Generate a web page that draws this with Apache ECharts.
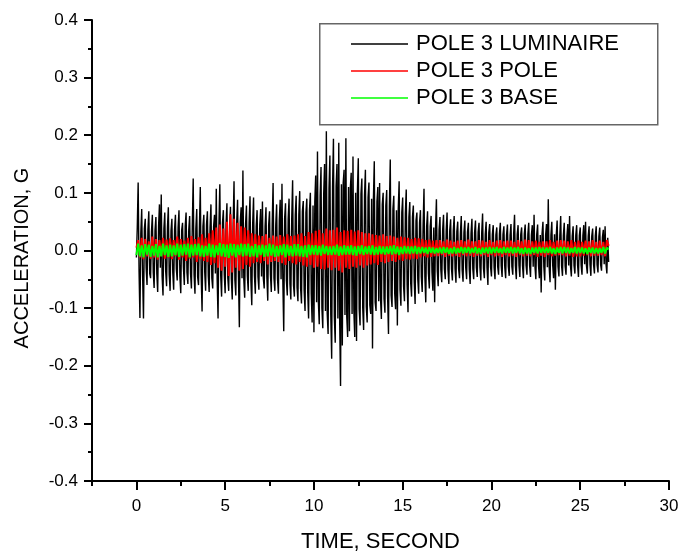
<!DOCTYPE html>
<html>
<head>
<meta charset="utf-8">
<script src="https://cdn.jsdelivr.net/npm/echarts@6/dist/echarts.min.js"></script>
<style>
  html, body { margin: 0; padding: 0; background: #fff; }
  #curve { width: 682px; height: 558px; }
</style>
</head>
<body>
<div id="curve"></div>
<script>
// 采样间隔 (秒)
var dtLum = 0.05;
var dtPole = 0.1;
var dtBase = 0.1;

// 灯具加速度, 单位 0.001 G, 每行一秒
var luminaire = [
  -12, 40, 118, -35, -117, 30, 72, -42, -118, 38, 55, -30, -60, 36, 68, -40, -48, 33, 62, -38,
  -65, 35, 58, -40, -72, 42, 80, -30, 97, -45, -78, 38, 66, -36, -62, 40, 75, -42, -70, 34,
  55, -38, -68, 36, 62, -32, -52, 40, 70, -44, -74, 35, 48, -30, -60, 42, 66, -38, -58, 36,
  60, -40, -66, 44, 125, -42, -75, 38, 72, -46, -60, 40, 110, -44, -106, 42, 62, -38, -70, 45,
  68, -44, -72, 40, 80, -48, -66, 42, 62, -40, 107, -50, -118, 46, 115, -44, -80, 48, 70, -42,
  -74, 45, 82, -48, -70, 44, 76, -50, -85, 46, 120, -52, -78, 48, 88, -46, -133, 50, 75, -48,
  139, -50, -82, 46, 78, -44, -70, 48, 94, -52, -95, 46, 92, -44, -75, 42, 70, -46, -68, 44,
  72, -45, 85, -48, -66, 42, 75, -46, -87, 44, 68, -42, -72, 46, 117, -48, -70, 44, 80, -50,
  -75, 52, 88, -50, 116, -54, -140, 56, 82, -52, -78, 55, 90, -58, -85, 56, 122, -60, -80, 62,
  95, -64, -88, 62, 103, -66, -92, 68, 86, -70, -105, 66, 90, -72, -118, 70, 100, -75, -125, 78,
  -142, 85, 130, -90, 172, -88, -128, 95, 145, -100, -135, 98, 150, -105, 207, -110, -145, 108, 165, -112,
  -188, 110, 194, -115, -160, 112, 150, -118, 187, -120, -235, 115, -165, 118, 140, -112, 195, -115, -150, 110,
  -140, 108, 135, -110, 163, -105, -150, 100, -157, 104, 160, -102, -130, 98, 125, -100, -138, 95, 140, -98,
  -125, 92, 118, -95, -110, 90, -170, 88, 155, -90, -105, 85, 110, -88, 117, -82, -119, 80, 100, -84,
  -108, 78, 105, -80, -145, 75, 158, -78, -98, 72, 95, -74, -102, 70, -130, 72, 120, -68, -96, 66,
  92, -62, -88, 64, 106, -60, -107, 58, 84, -56, -80, 58, 78, -54, -93, 52, 66, -50, -75, 48,
  70, -46, -72, 44, 107, -46, -90, 42, 68, -40, -66, 42, 60, -38, -70, 40, -90, 38, 89, -36,
  -62, 36, 58, -34, -55, 35, 62, -32, -50, 34, 66, -33, -58, 35, 54, -32, -52, 34, 60, -31,
  -56, 33, 50, -32, -48, 30, 60, -34, -54, 31, 52, -30, -50, 32, 48, -33, -58, 30, 55, -32,
  -50, 31, 52, -30, -46, 32, 48, -29, -52, 30, 64, -31, -48, 28, 50, -30, -60, 31, 46, -29,
  -45, 28, 44, -30, -50, 27, 40, -28, -42, 29, 48, -27, -46, 28, 42, -29, -48, 27, 45, -28,
  -44, 27, 46, -28, -42, 29, 62, -27, -50, 28, 44, -26, -46, 28, 40, -27, -48, 29, 45, -26,
  -42, 28, 48, -26, -46, 27, 44, -28, 62, -27, -50, 28, 45, -26, -48, 27, -73, 29, 50, -28,
  -52, 27, 46, -29, 89, -28, -55, 27, 50, -26, -48, 28, -68, 27, 52, -28, -45, 26, 60, -27,
  -44, 26, 48, -27, -42, 25, 46, -26, 60, -27, -45, 25, 42, -26, -40, 27, 44, -25, -46, 26,
  40, -25, -42, 26, 44, -24, 50, -26, -40, 25, 42, -24, -44, 25, 38, -24, -40, 26, 42, -25,
  -38, 24, 40, -25, -35, 23, 36, -24, 42, -23, -40, 22, -20
];

// 灯杆加速度, 单位 0.001 G
var pole = [
  5, 18, -12, 22, -15, 20, -10, 16, -14, 24,
  -12, 20, -16, 18, -10, 22, -14, 19, -12, 21,
  -15, 18, -10, 24, -16, 20, -12, 17, -18, 22,
  -14, 25, -12, 20, -20, 23, -15, 28, -18, 22,
  -20, 30, -25, 35, -22, 40, -30, 45, -35, 38,
  -28, 50, -44, 63, -38, 55, -30, 48, -35, 42,
  -32, 40, -25, 35, -28, 30, -22, 28, -20, 26,
  -22, 25, -18, 28, -24, 22, -20, 26, -18, 24,
  -20, 27, -22, 24, -25, 28, -18, 25, -22, 26,
  -24, 28, -20, 30, -26, 25, -28, 32, -25, 30,
  -30, 34, -28, 36, -32, 30, -33, 38, -30, 35,
  -34, 36, -30, 40, -35, 32, -38, 35, -30, 34,
  -32, 36, -28, 33, -30, 35, -26, 32, -30, 30,
  -26, 30, -24, 28, -22, 27, -25, 26, -20, 28,
  -22, 25, -20, 26, -18, 24, -20, 22, -16, 24,
  -18, 23, -15, 22, -16, 20, -14, 22, -15, 21,
  -12, 20, -10, 18, -12, 19, -11, 17, -10, 18,
  -10, 18, -8, 16, -11, 19, -9, 17, -10, 15,
  -9, 17, -11, 18, -8, 16, -10, 19, -9, 16,
  -11, 16, -9, 18, -10, 17, -8, 15, -11, 18,
  -8, 15, -10, 17, -9, 18, -11, 16, -8, 17,
  -10, 17, -9, 15, -11, 18, -8, 16, -10, 19,
  -9, 18, -10, 16, -8, 17, -11, 15, -9, 16,
  -11, 16, -8, 18, -10, 15, -9, 17, -8, 18,
  -8, 17, -10, 16, -9, 18, -11, 15, -10, 17,
  -10, 15, -9, 17, -8, 16, -10, 18, -9, 15,
  -9, 17, -8, 15, -10, 18, 8
];

// 基础加速度, 单位 0.001 G
var base = [
  -8, 12, -10, 9, -12, 11, -7, 10, -11, 8,
  -9, 11, -12, 8, -10, 12, -8, 9, -11, 10,
  -10, 9, -8, 12, -11, 10, -9, 11, -7, 12,
  -12, 10, -9, 11, -8, 12, -10, 9, -11, 8,
  -9, 12, -11, 10, -12, 9, -8, 13, -10, 11,
  -11, 10, -13, 12, -9, 11, -12, 10, -8, 12,
  -10, 11, -9, 12, -11, 8, -10, 11, -12, 9,
  -8, 10, -11, 9, -10, 12, -9, 10, -11, 8,
  -10, 9, -8, 11, -12, 10, -9, 8, -10, 11,
  -9, 11, -10, 8, -11, 9, -12, 10, -8, 9,
  -7, 9, -8, 8, -9, 10, -6, 8, -8, 7,
  -8, 8, -7, 10, -9, 7, -8, 9, -7, 8,
  -7, 9, -8, 7, -9, 8, -6, 9, -8, 7,
  -6, 8, -7, 9, -8, 6, -7, 8, -6, 7,
  -7, 7, -6, 8, -7, 9, -6, 7, -8, 6,
  -6, 8, -5, 7, -6, 7, -5, 8, -6, 6,
  -5, 6, -4, 5, -6, 6, -4, 5, -5, 4,
  -4, 5, -5, 6, -4, 5, -6, 4, -5, 6,
  -5, 4, -4, 6, -5, 5, -4, 6, -5, 4,
  -4, 6, -5, 4, -6, 5, -4, 5, -5, 6,
  -5, 5, -4, 6, -4, 4, -5, 6, -4, 5,
  -4, 6, -5, 5, -4, 6, -5, 4, -6, 5,
  -5, 4, -6, 5, -4, 5, -5, 6, -4, 5,
  -4, 5, -4, 6, -5, 4, -6, 5, -4, 6,
  -5, 6, -4, 5, -5, 4, -4, 6, -5, 5,
  -4, 5, -5, 4, -6, 5, -4, 5, -5, 4,
  -5, 4, -4, 6, -5, 5, 2
];

var seriesNames = ['POLE 3 LUMINAIRE', 'POLE 3 POLE', 'POLE 3 BASE'];
var seriesColors = ['#000000', '#ff0000', '#00ff00'];
var seriesWidths = [1.4, 2, 2];
var xMajorTicks = [0, 5, 10, 15, 20, 25, 30];
var xMinorTicks = [-2.5, 2.5, 7.5, 12.5, 17.5, 22.5, 27.5];

var FONT = '"Liberation Sans", Arial, sans-serif';

// 转成 [时间, G] 点
function toPoints(arr, dt) {
    return arr.map(function(v, i) {
        return [+(i * dt).toFixed(2), v / 1000];
    });
}

var myChart = echarts.init(document.getElementById('curve'));

var axisLineStyle = { color: '#000', width: 2 };

var option = {
    animation: false,
    backgroundColor: '#fff',
    grid: {
        left: 92,
        right: 13,
        top: 20,
        bottom: 75
    },
    legend: {
        orient: 'vertical',
        left: 351,
        top: 33,
        padding: 0,
        itemWidth: 57,
        itemHeight: 1.5,
        itemGap: 5,
        icon: 'rect',
        data: seriesNames,
        textStyle: {
            fontFamily: FONT,
            fontSize: 22,
            color: '#000',
            padding: [0, 0, 0, 3]
        }
    },
    graphic: [{
        type: 'rect',
        left: 319,
        top: 23,
        shape: { width: 338, height: 101 },
        style: { fill: '#fff', stroke: '#666', lineWidth: 1.5 },
        z: 0
    }, {
        // 纵轴标题
        type: 'text',
        x: 22,
        y: 258,
        rotation: Math.PI / 2,
        style: {
            text: 'ACCELERATION, G',
            fontFamily: FONT,
            fontSize: 20,
            fill: '#000',
            align: 'center',
            verticalAlign: 'middle',
            textAlign: 'center',
            textVerticalAlign: 'middle'
        }
    }],
    xAxis: [{
        type: 'value',
        min: -2.5,
        max: 30,
        name: 'TIME, SECOND',
        nameLocation: 'middle',
        nameGap: 50,
        nameTextStyle: { fontFamily: FONT, fontSize: 22, color: '#000' },
        axisLine: { onZero: false, lineStyle: axisLineStyle },
        axisTick: {
            customValues: xMajorTicks,
            inside: false,
            length: 9,
            lineStyle: { color: '#000', width: 2 }
        },
        axisLabel: {
            customValues: xMajorTicks,
            fontFamily: FONT,
            fontSize: 17,
            color: '#000',
            margin: 17
        },
        splitLine: { show: false }
    }, {
        type: 'value',
        min: -2.5,
        max: 30,
        position: 'bottom',
        axisLine: { show: false, onZero: false },
        axisTick: {
            customValues: xMinorTicks,
            length: 5,
            lineStyle: { color: '#000', width: 2 }
        },
        axisLabel: { show: false },
        splitLine: { show: false }
    }],
    yAxis: {
        type: 'value',
        min: -0.4,
        max: 0.4,
        interval: 0.1,
        axisLine: { onZero: false, lineStyle: axisLineStyle },
        axisTick: {
            length: 8,
            lineStyle: { color: '#000', width: 2 }
        },
        minorTick: {
            show: true,
            splitNumber: 2,
            length: 4,
            lineStyle: { color: '#000', width: 2 }
        },
        axisLabel: {
            fontFamily: FONT,
            fontSize: 17,
            color: '#000',
            margin: 14,
            formatter: function(v) { return v.toFixed(1); }
        },
        splitLine: { show: false }
    },
    series: [[luminaire, dtLum], [pole, dtPole], [base, dtBase]].map(function(s, k) {
        return {
            name: seriesNames[k],
            type: 'line',
            data: toPoints(s[0], s[1]),
            showSymbol: false,
            symbol: 'none',
            color: seriesColors[k],
            itemStyle: { color: seriesColors[k] },
            lineStyle: { width: seriesWidths[k], color: seriesColors[k] },
            z: 2 + k
        };
    })
};

myChart.setOption(option);
</script>
</body>
</html>
